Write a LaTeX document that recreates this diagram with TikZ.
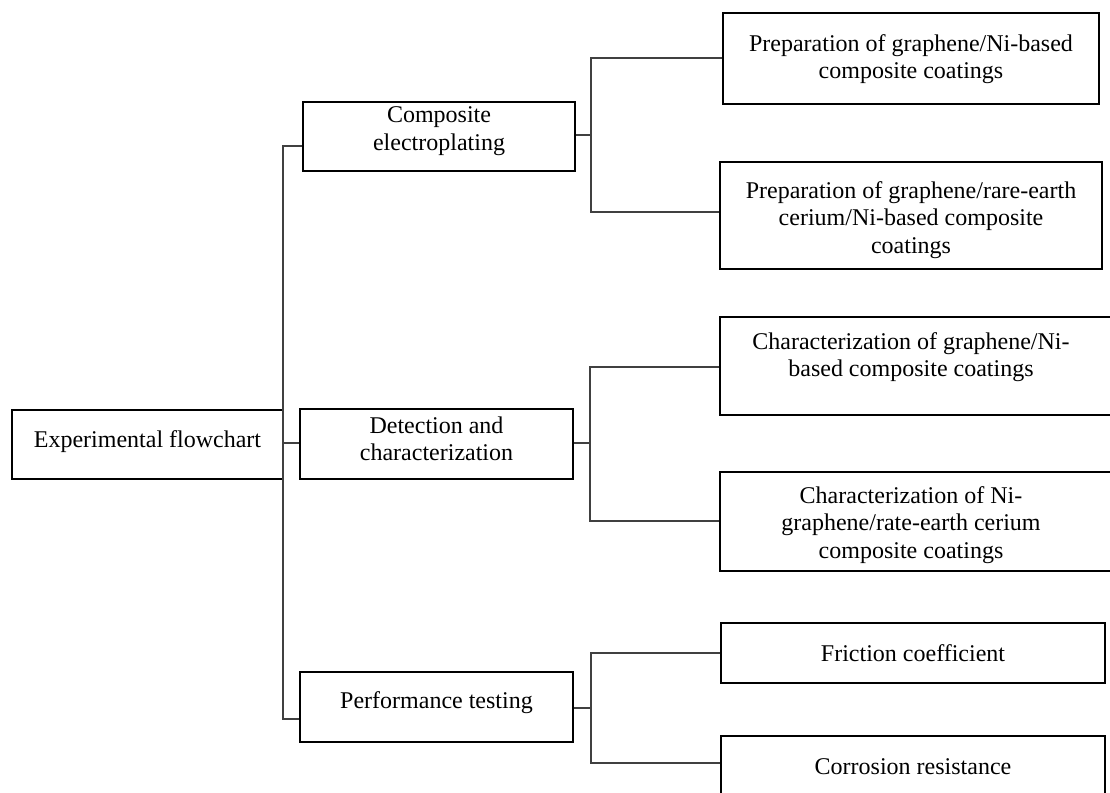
\documentclass[tikz,border=0pt]{standalone}
\usepackage{fontspec}
\setmainfont{Liberation Serif}
\begin{document}
\begin{tikzpicture}[x=1pt,y=-1pt,
  box/.style={draw=black,line width=1.8pt,inner sep=0pt},
  txt/.style={align=center,font=\fontsize{24}{27.5}\selectfont,inner sep=0pt},
  conn/.style={draw=black!75,line width=1.3pt}]
\useasboundingbox (0,0) rectangle (1110,792);
\fill[white] (0,0) rectangle (1110,792);

% boxes
\node[box,minimum width=271,minimum height=69] (ef) at (147.5,444.5) {};
\node[box,minimum width=272,minimum height=69] (ce) at (439,136.5) {};
\node[box,minimum width=273,minimum height=70] (dc) at (436.5,444) {};
\node[box,minimum width=273,minimum height=70] (pt) at (436.5,707) {};
\node[box,minimum width=376,minimum height=91] (p1) at (911,58.5) {};
\node[box,minimum width=382,minimum height=107] (p2) at (911,215.5) {};
\node[box,minimum width=394,minimum height=98] (c1) at (917,366) {};
\node[box,minimum width=394,minimum height=99] (c2) at (917,521.5) {};
\node[box,minimum width=384,minimum height=60] (fr) at (913,653) {};
\node[box,minimum width=384,minimum height=64] (co) at (913,768) {};

% texts
\node[txt] (efT) at (147.5,442) {Experimental flowchart};
\node[txt] (ceT) at (439,131) {Composite\\electroplating};
\node[txt] (dcT) at (436.5,439) {Detection and\\characterization};
\node[txt] (ptT) at (436.5,703) {Performance testing};
\node[txt] (p1T) at (911,59) {Preparation of graphene/Ni-based\\composite coatings};
\node[txt] (p2T) at (911,220) {Preparation of graphene/rare-earth\\cerium/Ni-based composite\\coatings};
\node[txt] (c1T) at (911,357) {Characterization of graphene/Ni-\\based composite coatings};
\node[txt] (c2T) at (911,525) {Characterization of Ni-\\graphene/rate-earth cerium\\composite coatings};
\node[txt] (frT) at (913,653) {Friction coefficient};
\node[txt] (coT) at (913,767) {Corrosion resistance};

% trunk
\coordinate (tt) at (283,146);
\coordinate (tb) at (283,719);
\draw[conn] (ce.west |- tt) -- (tt) -- (tb) -- (pt.west |- tb);
\draw[conn] (ef.east |- 0,443) -- (dc.west |- 0,443);

% branch 1
\coordinate (b1m) at (591,135);
\coordinate (b1t) at (591,58);
\coordinate (b1b) at (591,212);
\draw[conn] (ce.east |- b1m) -- (b1m);
\draw[conn] (p1.west |- b1t) -- (b1t) -- (b1b) -- (p2.west |- b1b);

% branch 2
\coordinate (b2m) at (590,443);
\coordinate (b2t) at (590,367);
\coordinate (b2b) at (590,521);
\draw[conn] (dc.east |- b2m) -- (b2m);
\draw[conn] (c1.west |- b2t) -- (b2t) -- (b2b) -- (c2.west |- b2b);

% branch 3
\coordinate (b3m) at (591,708);
\coordinate (b3t) at (591,653);
\coordinate (b3b) at (591,763);
\draw[conn] (pt.east |- b3m) -- (b3m);
\draw[conn] (fr.west |- b3t) -- (b3t) -- (b3b) -- (co.west |- b3b);
\end{tikzpicture}
\end{document}
